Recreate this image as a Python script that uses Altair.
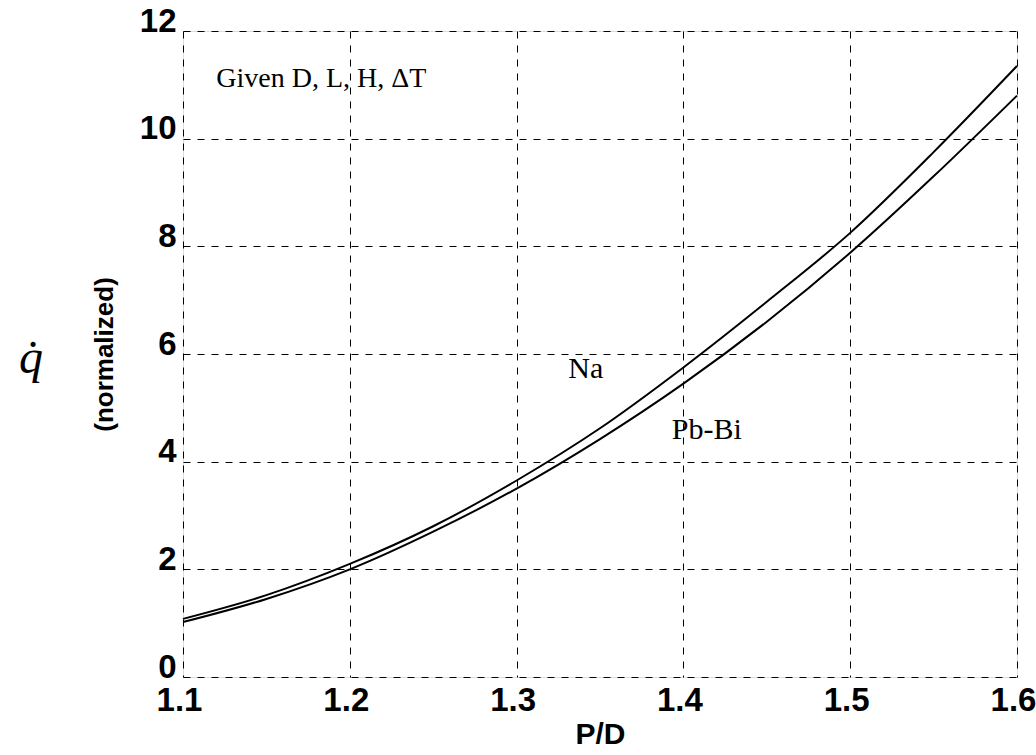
import altair as alt
import pandas as pd

pd_vals = [1.10, 1.15, 1.20, 1.25, 1.30, 1.35, 1.40, 1.45, 1.50, 1.55, 1.60]
na_vals = [1.08, 1.52, 2.10, 2.80, 3.65, 4.62, 5.75, 6.97, 8.25, 9.75, 11.35]
pbbi_vals = [1.02, 1.45, 2.00, 2.70, 3.50, 4.42, 5.45, 6.60, 7.88, 9.30, 10.80]

x_ticks = [1.1, 1.2, 1.3, 1.4, 1.5, 1.6]
y_ticks = [0, 2, 4, 6, 8, 10, 12]

rows = []
for x, a, b in zip(pd_vals, na_vals, pbbi_vals):
    rows.append({"pd": x, "q": a, "fluid": "Na"})
    rows.append({"pd": x, "q": b, "fluid": "Pb-Bi"})
df = pd.DataFrame(rows)

labels = pd.DataFrame({
    "pd": [1.12, 1.331, 1.393],
    "q": [11.1, 5.72, 4.58],
    "text": ["Given D, L, H, \u0394T", "Na", "Pb-Bi"],
    "size": [28, 30, 30],
})

xscale = alt.Scale(domain=[1.1, 1.6], nice=False, zero=False)
yscale = alt.Scale(domain=[0, 12], nice=False)

xaxis = alt.Axis(values=x_ticks, format=".1f", title="P/D", labelFontSize=33,
                 labelFont="Liberation Sans", labelFontWeight="bold", labelColor="black",
                 labelPadding=7, labelFlush=False, labelOffset=-4, labelBound=False,
                 titleFont="Liberation Sans", titleFontSize=30, titleFontWeight="bold",
                 titleColor="black", titlePadding=2,
                 grid=True, gridDash=[7, 7], gridColor="black", gridWidth=1,
                 ticks=False, domain=False)
yaxis = alt.Axis(values=y_ticks, format="d", title="(normalized)", labelFontSize=33,
                 labelFont="Liberation Sans", labelFontWeight="bold", labelColor="black",
                 labelPadding=7, labelOffset=-10, labelFlush=False, labelBound=False,
                 titleFont="Liberation Sans", titleFontSize=26, titleFontWeight="bold",
                 titleColor="black", titlePadding=22,
                 grid=True, gridDash=[7, 7], gridColor="black", gridWidth=1,
                 ticks=False, domain=False)

lines = alt.Chart(df).mark_line(color="black", strokeWidth=2, interpolate="monotone").encode(
    x=alt.X("pd:Q", scale=xscale, axis=xaxis),
    y=alt.Y("q:Q", scale=yscale, axis=yaxis),
    detail="fluid:N",
)

texts = alt.Chart(labels).mark_text(
    font="Liberation Serif", color="black", align="left", baseline="middle"
).encode(
    x=alt.X("pd:Q", scale=xscale),
    y=alt.Y("q:Q", scale=yscale),
    text="text:N",
    size=alt.Size("size:Q", scale=None, legend=None),
)

qdot = alt.Chart(pd.DataFrame({"t": ["q\u0307"]})).mark_text(
    font="Liberation Serif", fontSize=48, fontStyle="italic", color="black",
    align="center", baseline="middle"
).encode(x=alt.value(-152), y=alt.value(328), text="t:N")

chart = alt.layer(lines, texts, qdot).properties(
    width=834, height=646,
    autosize=alt.AutoSizeParams(type="none"),
    padding={"left": 183, "top": 31, "right": 19, "bottom": 78},
).configure_view(stroke="black", strokeWidth=1.5).configure(background="white")

chart.save("out.html", embed_options={"renderer": "svg", "actions": False})
